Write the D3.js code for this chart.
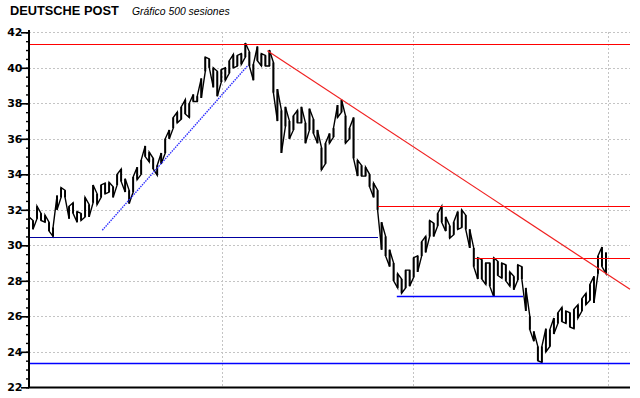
<!DOCTYPE html>
<html>
<head>
<meta charset="utf-8">
<script src="https://cdn.jsdelivr.net/npm/d3@7"></script>
<style>
  body { margin: 0; background: #fff; }
  svg { display: block; }
</style>
</head>
<body>
<svg width="640" height="398"></svg>
<script>
// price bars (every ~3.5 sessions)
const highs = [
  31.6, 31.4, 32.2, 31.8, 31.7, 31.3, 31.0, 32.8, 33.25, 33.1,
  32.2, 32.4, 31.9, 31.8, 32.7, 32.3, 33.4, 32.9, 33.4, 33.5,
  33.55, 33.3, 34.0, 34.3, 33.75, 33.1, 33.85, 34.4, 34.8, 35.6,
  35.25, 34.9, 34.5, 35.2, 36.0, 36.5, 37.2, 37.5, 37.8, 38.2,
  38.0, 38.5, 38.4, 39.4, 40.6, 40.5, 40.0, 39.8, 39.9, 40.0,
  40.4, 40.75, 40.7, 40.8, 41.4, 40.9, 40.2, 41.2, 40.8, 40.7,
  41.0, 40.3, 38.8, 37.6, 37.8, 37.0, 37.3, 37.6, 37.8, 36.9,
  37.7, 37.1, 36.5, 35.5, 35.75, 36.3, 36.6, 37.9, 38.2, 37.3,
  36.6, 37.2, 34.8, 34.5, 34.4, 34.0, 33.5, 33.1, 31.3, 30.5,
  29.75, 29.0, 28.4, 28.1, 28.6, 28.6, 29.3, 29.4, 30.2, 30.5,
  31.4, 31.25, 31.8, 32.2, 31.6, 31.1, 31.3, 31.9, 32.0, 31.7,
  30.9, 29.85, 29.3, 29.2, 29.0, 29.0, 29.3, 29.1, 29.0, 28.9,
  28.5, 28.25, 28.9, 28.8, 27.6, 26.0, 25.15, 24.3, 24.3, 25.3,
  25.25, 25.9, 26.2, 26.5, 26.3, 26.2, 26.4, 26.65, 27.0, 27.3,
  27.8, 28.25, 29.4, 29.9, 29.6
];
const lows = [
  30.9, 30.9, 31.5, 31.4, 31.3, 30.8, 30.5, 32.0, 32.7, 32.7,
  31.5, 31.8, 31.3, 31.4, 31.6, 31.6, 32.4, 32.3, 32.7, 32.9,
  33.0, 32.7, 33.4, 33.6, 33.0, 32.35, 33.0, 33.7, 34.0, 35.0,
  34.7, 34.3, 33.95, 34.6, 35.2, 36.0, 36.6, 36.9, 37.1, 37.4,
  37.2, 38.1, 38.1, 38.3, 39.8, 40.0, 38.9, 38.4, 39.2, 39.3,
  39.7, 40.0, 40.1, 40.2, 40.6, 40.1, 39.3, 40.4, 40.1, 40.1,
  40.1, 38.6, 37.0, 35.2, 36.7, 36.0, 36.5, 36.9, 36.9, 35.75,
  36.5, 36.3, 35.75, 34.25, 34.6, 35.75, 36.1, 37.2, 37.5, 35.75,
  36.0, 34.9, 33.9, 33.9, 33.9, 33.3, 32.7, 32.0, 29.75, 29.4,
  28.8, 28.0, 27.6, 27.3, 27.6, 27.7, 28.2, 28.5, 29.4, 29.6,
  30.5, 30.5, 31.1, 31.3, 30.8, 30.4, 30.6, 30.9, 31.0, 30.9,
  29.85, 28.8, 28.1, 28.1, 27.8, 27.7, 27.1, 28.3, 28.15, 28.0,
  27.7, 27.5, 28.05, 28.1, 26.3, 25.25, 24.6, 23.5, 23.4, 24.0,
  24.3, 25.0, 25.6, 25.7, 25.6, 25.4, 25.3, 25.9, 26.3, 26.65,
  26.9, 26.75, 28.4, 28.8, 28.4
];

// drawn studies: [startBar, startPrice, endBar, endPrice]
const resistances = [[-0.25, 41.34, 150, 41.34], [87.1, 32.22, 150, 32.22], [111.3, 29.29, 150, 29.29]];
const supports = [[91.8, 27.13, 123.3, 27.13], [-0.25, 23.39, 150, 23.39]];
const oldSupport = [[-0.25, 30.44, 87.1, 30.44]];
const upTrend = [[18.3, 30.85, 54.7, 40.15]];
const downTrend = [[59.5, 40.96, 150, 27.52]];

const yTicks = [22, 24, 26, 28, 30, 32, 34, 36, 38, 40, 42];
const yGrid = [24, 26, 28, 30, 32, 34, 36, 38, 40, 42];
const xGrid = [48.1, 95.9, 144.4];

const title = 'DEUTSCHE POST';
const subtitle = 'Gráfico 500 sesiones';

const svg = d3.select('svg');

const x = d3.scaleLinear().domain([0, 150]).range([29, 630]);
const y = d3.scaleLinear().domain([22, 42]).range([387.3, 32.3]);

// grid
const grid = svg.append('g');
grid.selectAll('.hg')
  .data(yGrid)
  .enter()
  .append('line')
  .attr('x1', 29).attr('x2', 630)
  .attr('y1', d => Math.round(y(d)) + 0.5)
  .attr('y2', d => Math.round(y(d)) + 0.5)
  .attr('stroke', '#c4c4c4')
  .attr('stroke-dasharray', '2,2');
grid.selectAll('.vg')
  .data(xGrid)
  .enter()
  .append('line')
  .attr('x1', d => Math.round(x(d)) + 0.5)
  .attr('x2', d => Math.round(x(d)) + 0.5)
  .attr('y1', 32).attr('y2', 387)
  .attr('stroke', '#c4c4c4')
  .attr('stroke-dasharray', '2,2');

// price trace
const bars = highs.map((h, i) => ({ i, h, l: lows[i] }));
const pts = [];
bars.forEach(b => {
  if (b.i % 2 === 0) { pts.push([x(b.i), y(b.l)], [x(b.i), y(b.h)]); }
  else { pts.push([x(b.i), y(b.h)], [x(b.i), y(b.l)]); }
});
svg.append('path')
  .attr('d', d3.line()(pts))
  .attr('fill', 'none')
  .attr('stroke', '#000')
  .attr('stroke-width', 1.4)
  .attr('stroke-linejoin', 'miter');

svg.selectAll('.bar')
  .data(bars)
  .enter()
  .append('line')
  .attr('x1', d => x(d.i)).attr('x2', d => x(d.i))
  .attr('y1', d => y(d.l)).attr('y2', d => y(d.h))
  .attr('stroke', '#000')
  .attr('stroke-width', 1.9);

// studies
function study(data, color, width, dash) {
  svg.append('g').selectAll('line')
    .data(data)
    .enter()
    .append('line')
    .attr('x1', d => x(d[0])).attr('y1', d => d[1] === d[3] ? Math.round(y(d[1])) + 0.5 : y(d[1]))
    .attr('x2', d => x(d[2])).attr('y2', d => d[1] === d[3] ? Math.round(y(d[3])) + 0.5 : y(d[3]))
    .attr('stroke', color)
    .attr('stroke-width', width)
    .attr('stroke-dasharray', dash);
}
study(resistances, '#ff0000', 1.2, null);
study(supports, '#0000ff', 1.3, null);
study(oldSupport, '#0000a0', 1.2, null);
study(upTrend, '#2e2eff', 1.4, '1.5,1');
study(downTrend, '#f02020', 1.2, null);

// y axis
svg.append('g')
  .attr('transform', 'translate(29,0)')
  .call(d3.axisLeft(y).tickValues(d3.range(22, 42.01, 0.5)).tickSize(3).tickFormat('').tickSizeOuter(0))
  .call(g => g.select('.domain').remove())
  .call(g => g.selectAll('line').attr('stroke', '#000').attr('stroke-width', 1.4));

svg.append('g')
  .attr('transform', 'translate(29,0)')
  .call(d3.axisLeft(y).tickValues(yTicks).tickSize(8).tickPadding(-1.5).tickSizeOuter(0))
  .call(g => g.select('.domain').remove())
  .call(g => g.selectAll('line').attr('stroke', '#000').attr('stroke-width', 1.6))
  .call(g => g.selectAll('text')
    .attr('fill', '#000')
    .style('font-family', '"DejaVu Sans", sans-serif')
    .style('font-weight', 'bold')
    .style('font-size', '11px'));

svg.append('line')
  .attr('x1', 29).attr('x2', 29)
  .attr('y1', 30).attr('y2', 388)
  .attr('stroke', '#000').attr('stroke-width', 2);
svg.append('line')
  .attr('x1', 28).attr('x2', 630)
  .attr('y1', 387.5).attr('y2', 387.5)
  .attr('stroke', '#000').attr('stroke-width', 2);

// titles
svg.append('text')
  .attr('x', 10).attr('y', 15)
  .style('font-family', '"Liberation Sans", Arial, sans-serif')
  .style('font-weight', 'bold')
  .style('font-size', '12.8px')
  .text(title);
svg.append('text')
  .attr('x', 132).attr('y', 15)
  .style('font-family', '"Liberation Sans", Arial, sans-serif')
  .style('font-style', 'italic')
  .style('font-size', '10.4px')
  .text(subtitle);
</script>
</body>
</html>
